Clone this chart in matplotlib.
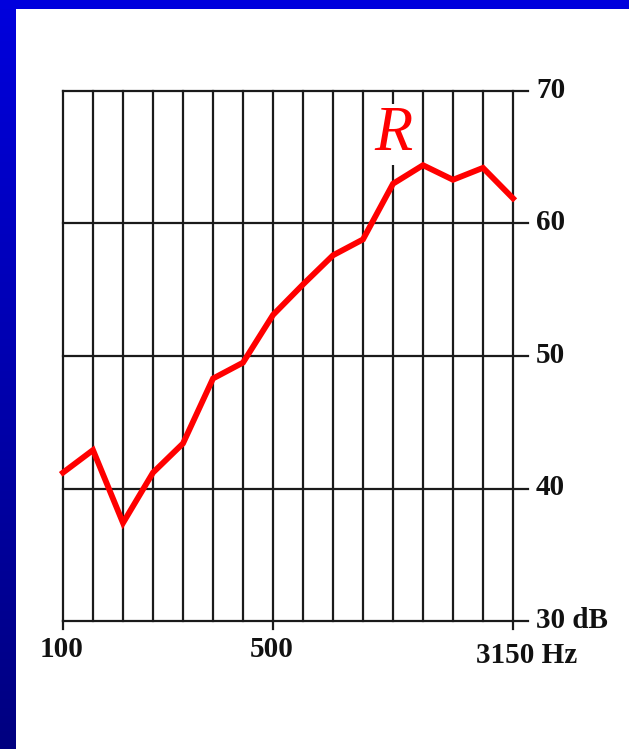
import matplotlib
matplotlib.use("Agg")
import matplotlib.pyplot as plt
import matplotlib.patches as patches
import numpy as np

# 1/3-octave band centre frequencies (Hz)
freq_bands = ['100', '125', '160', '200', '250', '315', '400', '500',
              '630', '800', '1000', '1250', '1600', '2000', '2500', '3150']
# Sound reduction index R (dB)
r_values = [41.2, 42.9, 37.4, 41.2, 43.4, 48.3, 49.5, 53.1,
            55.4, 57.6, 58.8, 63.0, 64.4, 63.3, 64.2, 61.9]
db_levels = [30, 40, 50, 60, 70]
db_labels = ['30 dB', '40', '50', '60', '70']
freq_labels = {'100': '100', '500': '500', '3150': '3150 Hz'}

W, H = 629, 749
fig = plt.figure(figsize=(W / 100, H / 100), dpi=100)
fig.patch.set_facecolor('white')

# slide background: blue top bar and gradient left bar
bg = fig.add_axes([0, 0, 1, 1])
bg.set_xlim(0, W)
bg.set_ylim(H, 0)
bg.axis('off')
grad = np.linspace(0, 1, 256).reshape(-1, 1)
cmap = matplotlib.colors.LinearSegmentedColormap.from_list('slide', ['#0000dd', '#000080'])
bg.imshow(grad, cmap=cmap, extent=[0, 16, H, 0], aspect='auto')
bg.add_patch(patches.Rectangle((0, 0), W, 9, facecolor='#0000dd', edgecolor='none'))

ax = fig.add_axes([63 / W, (H - 621) / H, 450 / W, 530 / H])
ax.set_xlim(0, len(freq_bands) - 1)
ax.set_ylim(30, 70)
ax.axis('off')

x = np.arange(len(freq_bands))
last = x[-1]
grid_kw = dict(color='#1a1a1a', lw=1.6, clip_on=False, zorder=1)
font = dict(fontsize=21, family='Liberation Serif', weight='bold', color='#111111')

# vertical grid lines
for xi in x:
    ax.plot([xi, xi], [30, 70], **grid_kw)
# horizontal lines, extending past the right edge
for lv in db_levels:
    ax.plot([0, last + 0.5], [lv, lv], **grid_kw)
# ticks below the labelled frequencies
for f in freq_labels:
    xi = freq_bands.index(f)
    ax.plot([xi, xi], [30, 29.4], **grid_kw)

# dB labels on the right
for lv, lab in zip(db_levels, db_labels):
    ax.text(last + 0.77, lv + 0.05, lab, ha='left', va='center', **font)

# frequency labels
for f, lab in freq_labels.items():
    xi = freq_bands.index(f)
    if f == '3150':
        ax.text(xi - 1.25, 27.4, lab, ha='left', va='center', **font)
    else:
        ax.text(xi - 0.05, 27.85, lab, ha='center', va='center', **font)

# the R curve
ax.plot(x, r_values, color='#ff0000', lw=4.2, clip_on=False, zorder=3,
        solid_joinstyle='miter')

ax.text(11, 66.7, 'R', ha='center', va='center', fontsize=45, style='italic',
        family='Liberation Serif', color='#ff0000', zorder=4,
        bbox=dict(facecolor='white', edgecolor='none', pad=1))

fig.savefig('out.png', dpi=100, facecolor='white')
